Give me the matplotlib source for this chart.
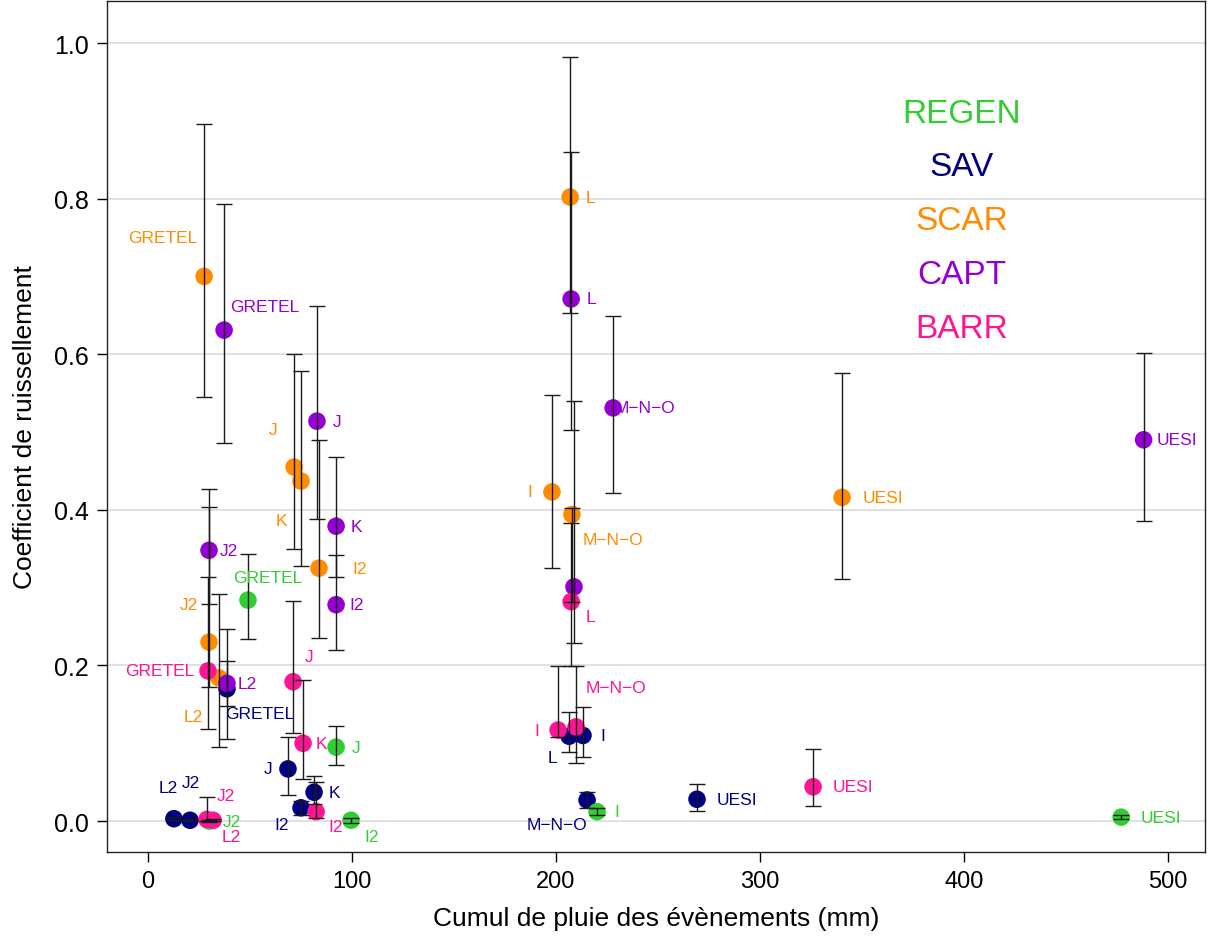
import matplotlib
matplotlib.use("Agg")
import matplotlib.pyplot as plt
import numpy as np

plt.rcParams["font.family"] = ["Liberation Sans", "DejaVu Sans"]

# --- data ---
groups = ["REGEN", "SAV", "SCAR", "CAPT", "BARR"]
colors = {"REGEN": "#32CD32", "SAV": "#000080", "SCAR": "#FF8C00",
          "CAPT": "#9400D3", "BARR": "#FF1493"}

regen_names = ["GRETEL", "J", "I2", "J2", "I", "UESI"]
regen_x = [49.0, 92.2, 99.5, 30.0, 220.1, 477.0]
regen_y = [0.284, 0.095, 0.001, 0.000, 0.012, 0.005]
regen_lo = [0.234, 0.072, -0.002, -0.001, 0.008, 0.003]
regen_hi = [0.343, 0.122, 0.004, 0.001, 0.017, 0.008]

sav_names = ["GRETEL", "J", "K", "I2", "L2", "J2", "L", "I", "M−N−O", "UESI"]
sav_x = [38.7, 68.6, 81.4, 75.0, 12.7, 20.6, 206.4, 213.2, 215.2, 269.1]
sav_y = [0.170, 0.067, 0.037, 0.017, 0.003, 0.001, 0.109, 0.110, 0.027, 0.028]
sav_lo = [0.148, 0.033, 0.022, 0.008, 0.001, 0.000, 0.089, 0.082, 0.017, 0.013]
sav_hi = [0.206, 0.108, 0.058, 0.026, 0.005, 0.002, 0.140, 0.146, 0.037, 0.048]

scar_names = ["GRETEL", "J", "K", "I2", "J2", "L2", "L", "I", "M−N−O", "UESI"]
scar_x = [27.5, 71.6, 75.0, 83.8, 29.9, 34.8, 206.9, 198.0, 207.8, 340.2]
scar_y = [0.700, 0.455, 0.437, 0.325, 0.230, 0.184, 0.802, 0.423, 0.394, 0.416]
scar_lo = [0.545, 0.350, 0.328, 0.235, 0.172, 0.095, 0.653, 0.325, 0.282, 0.311]
scar_hi = [0.896, 0.600, 0.578, 0.490, 0.404, 0.292, 0.982, 0.548, 0.402, 0.576]

capt_names = ["GRETEL", "J", "K", "I2", "J2", "L2", "L", "", "M−N−O", "UESI"]
capt_x = [37.3, 82.8, 92.2, 92.2, 29.9, 38.7, 207.4, 208.8, 228.0, 488.0]
capt_y = [0.631, 0.514, 0.379, 0.278, 0.348, 0.177, 0.671, 0.301, 0.531, 0.490]
capt_lo = [0.486, 0.388, 0.314, 0.220, 0.279, 0.105, 0.503, 0.229, 0.422, 0.386]
capt_hi = [0.793, 0.662, 0.468, 0.342, 0.427, 0.247, 0.860, 0.540, 0.649, 0.602]

barr_names = ["GRETEL", "J", "K", "I2", "J2", "L2", "L", "I", "M−N−O", "UESI"]
barr_x = [29.4, 71.1, 76.0, 82.4, 28.9, 31.9, 207.4, 201.0, 209.8, 326.0]
barr_y = [0.193, 0.179, 0.100, 0.012, 0.002, 0.001, 0.282, 0.117, 0.121, 0.044]
barr_lo = [0.118, 0.113, 0.054, 0.004, 0.000, 0.000, 0.199, 0.108, 0.075, 0.019]
barr_hi = [0.314, 0.283, 0.181, 0.050, 0.031, 0.002, 0.383, 0.199, 0.199, 0.093]

# label offsets in pixels (x right, y up)
label_off = {
    "REGEN": [(20, 23), (20, 0), (21, -16), (23, 0), (20, 0), (40, 0)],
    "SAV": [(33, -25), (-20, 0), (20, 0), (-19, -17), (-6, 31), (1, 38),
            (-17, -21), (20, 0), (-30, -24), (40, 0)],
    "SCAR": [(-41, 39), (-21, 38), (-20, -39), (41, 0), (-20, 38), (-26, -39),
             (20, 0), (-22, 0), (41, -25), (41, 0)],
    "CAPT": [(41, 24), (20, 0), (20, 0), (21, 0), (20, 0), (20, 0),
             (20, 0), (0, 0), (32, 0), (33, 0)],
    "BARR": [(-48, 0), (16, 25), (18, 0), (20, -15), (19, 24), (18, -16),
             (19, -15), (-21, 0), (40, 39), (40, 0)],
}

data = {
    "REGEN": (regen_names, regen_x, regen_y, regen_lo, regen_hi),
    "SAV": (sav_names, sav_x, sav_y, sav_lo, sav_hi),
    "SCAR": (scar_names, scar_x, scar_y, scar_lo, scar_hi),
    "CAPT": (capt_names, capt_x, capt_y, capt_lo, capt_hi),
    "BARR": (barr_names, barr_x, barr_y, barr_lo, barr_hi),
}

W, H = 1208, 945
fig = plt.figure(figsize=(W / 100, H / 100), dpi=100)
ax = fig.add_axes([107 / W, (H - 853) / H, (1205 - 107) / W, (853 - 2) / H])

ax.set_xlim(-20.1, 518.1)
ax.set_ylim(-0.0398, 1.054)
for v in np.arange(0, 1.01, 0.2):
    ax.axhline(v, color="#D9D9D9", lw=1.1, zorder=0)

draw_order = ["SAV", "REGEN", "SCAR", "CAPT", "BARR"]
for g in draw_order:
    names, xs, ys, lo, hi = data[g]
    ys = np.array(ys)
    ax.scatter(xs, ys, s=160, color=colors[g], edgecolors="none", zorder=2)
for g in draw_order:
    names, xs, ys, lo, hi = data[g]
    ys = np.array(ys)
    yerr = [ys - np.array(lo), np.array(hi) - ys]
    ax.errorbar(xs, ys, yerr=yerr, fmt="none", ecolor="#1a1a1a", elinewidth=1.0,
                capsize=6, capthick=1.0, zorder=3)
    for name, xv, yv, off in zip(names, xs, ys, label_off[g]):
        if not name:
            continue
        ax.annotate(name, (xv, yv), xytext=off, textcoords="offset pixels",
                    ha="center", va="center", fontsize=12.5, color=colors[g],
                    zorder=4)

# group legend as coloured words
legend_y = [115, 168, 222, 276, 330]
for g, py in zip(groups, legend_y):
    fig.text(962 / W, 1 - py / H, g, color=colors[g], fontsize=24,
             ha="center", va="center")

ax.set_xticks(range(0, 501, 100))
ax.set_yticks(np.arange(0, 1.01, 0.2))
ax.set_yticklabels([f"{v:.1f}" for v in np.arange(0, 1.01, 0.2)])
ax.tick_params(axis="both", direction="out", length=7, width=1, pad=6)
ax.tick_params(axis="x", labelsize=17)
ax.tick_params(axis="y", labelsize=18)
for s in ax.spines.values():
    s.set_linewidth(1.0)
    s.set_color("#222222")

ax.set_xlabel("Cumul de pluie des évènements (mm)", fontsize=19, labelpad=10)
ax.set_ylabel("Coefficient de ruissellement", fontsize=19, labelpad=12)

fig.savefig("out.png", dpi=100)
